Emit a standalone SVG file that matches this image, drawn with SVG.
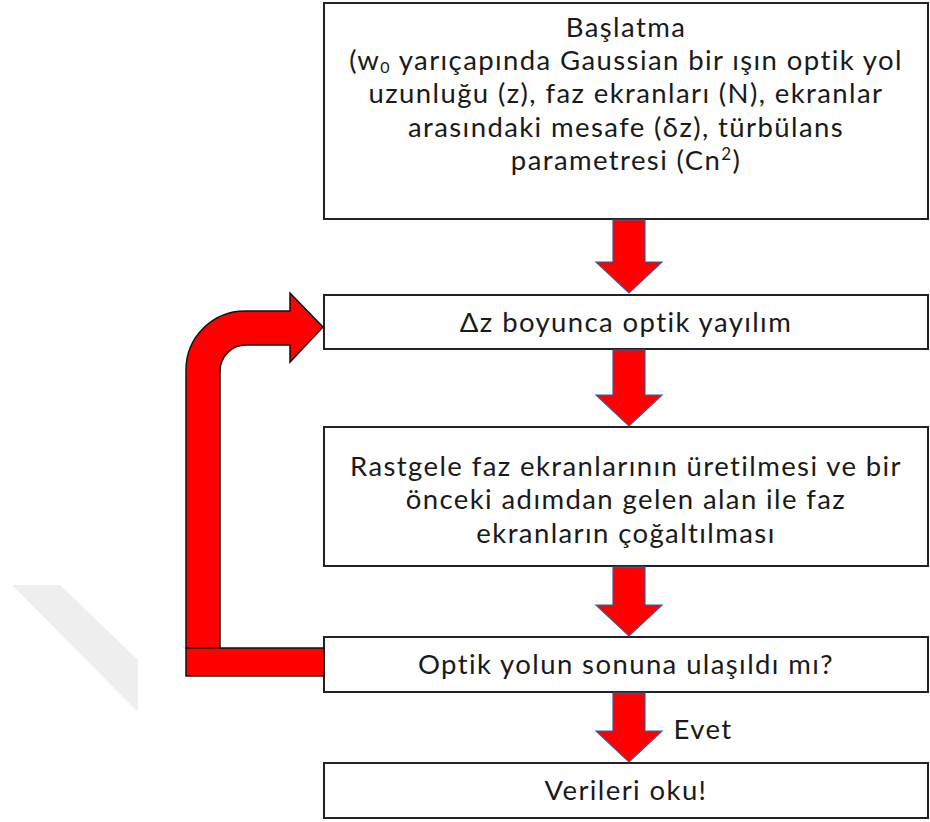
<svg xmlns="http://www.w3.org/2000/svg" width="930" height="822" viewBox="0 0 930 822">
<style>
.box{fill:#fff;stroke:#222;stroke-width:2}
.t{font-family:Lato,"Open Sans","Liberation Sans",sans-serif;font-size:27.5px;letter-spacing:1.4px;fill:#1a1a1a;text-anchor:middle}
.arr{fill:#ff0000;stroke:#3b5a9a;stroke-width:1.2;stroke-linejoin:miter}
.loop{fill:#ff0000;stroke:#111;stroke-width:1.5}
</style>
<rect width="930" height="822" fill="#fff"/>
<polygon points="12,585 60,585 138,660 138,712" fill="#eeeeee"/>
<g id="n1">
<rect class="box" x="324" y="3" width="604" height="216"/>
<text class="t" x="626" y="37">Başlatma</text>
<text class="t" x="626" y="70">(w<tspan font-size="16" dy="3">0</tspan><tspan dy="-3"> yarıçapında Gaussian bir ışın optik yol</tspan></text>
<text class="t" x="626" y="103">uzunluğu (z), faz ekranları (N), ekranlar</text>
<text class="t" x="626" y="137">arasındaki mesafe (δz), türbülans</text>
<text class="t" x="626" y="170">parametresi (Cn<tspan font-size="17" dy="-10">2</tspan><tspan dy="10">)</tspan></text>
</g>
<g id="n2">
<rect class="box" x="324" y="295" width="604" height="54"/>
<text class="t" x="626" y="332">Δz boyunca optik yayılım</text>
</g>
<g id="n3">
<rect class="box" x="324" y="427" width="604" height="139"/>
<text class="t" x="626" y="476">Rastgele faz ekranlarının üretilmesi ve bir</text>
<text class="t" x="626" y="509">önceki adımdan gelen alan ile faz</text>
<text class="t" x="626" y="543">ekranların çoğaltılması</text>
</g>
<g id="n4">
<rect class="box" x="324" y="637" width="604" height="55"/>
<text class="t" x="626" y="674">Optik yolun sonuna ulaşıldı mı?</text>
</g>
<g id="n5">
<rect class="box" x="324" y="763" width="604" height="55"/>
<text class="t" x="626" y="800">Verileri oku!</text>
</g>
<g id="connectors">
<polygon class="arr" points="613,220 645,220 645,262 662,262 629,293 596,262 613,262"/>
<polygon class="arr" points="613,350 645,350 645,395 662,395 629,426 596,395 613,395"/>
<polygon class="arr" points="613,567 645,567 645,605 662,605 629,636 596,605 613,605"/>
<polygon class="arr" points="613,693 645,693 645,731 662,731 629,762 596,731 613,731"/>
<text class="t" x="703" y="739">Evet</text>
<path class="loop" d="M186,648 L186,370 A59,59 0 0 1 245,311 L290,311 L290,293 L323,327 L290,362 L290,345 L246,345 A26,26 0 0 0 220,371 L220,648 Z"/>
<rect class="loop" x="186" y="648" width="138" height="28"/>
</g>
</svg>
